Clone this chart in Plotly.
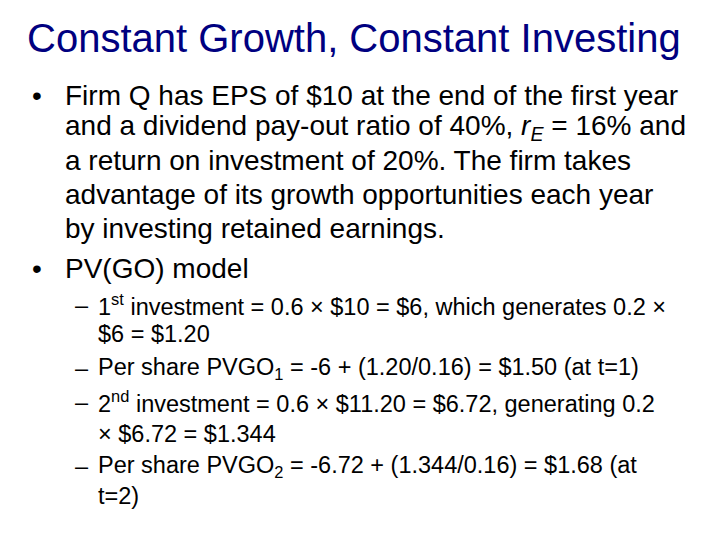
import plotly.graph_objects as go

title = "Constant Growth, Constant Investing"

bullet_lines = [
    "Firm Q has EPS of $10 at the end of the first year",
    "and a dividend pay-out ratio of 40%, <i>r<sub>E</sub></i> = 16% and",
    "a return on investment of 20%. The firm takes",
    "advantage of its growth opportunities each year",
    "by investing retained earnings.",
    "PV(GO) model",
]
bullet_y = [95, 127, 160, 194, 228, 268]
bullet_mark = [True, False, False, False, False, True]

sub_lines = [
    "1<sup>st</sup> investment = 0.6 × $10 = $6, which generates 0.2 ×",
    "$6 = $1.20",
    "Per share PVGO<sub>1</sub> = -6 + (1.20/0.16) = $1.50 (at t=1)",
    "2<sup>nd</sup> investment = 0.6 × $11.20 = $6.72, generating 0.2",
    "× $6.72 = $1.344",
    "Per share PVGO<sub>2</sub> = -6.72 + (1.344/0.16) = $1.68 (at",
    "t=2)",
]
sub_y = [305, 334, 368, 402, 434, 466, 496]
sub_mark = [True, False, True, True, False, True, False]

FONT = "Liberation Sans, Arial, sans-serif"
OFF = 8  # page body margin
fig = go.Figure()
ann = [dict(x=354 - OFF, y=38 - OFF, text=title, showarrow=False, xanchor="center", yanchor="middle",
            font=dict(family=FONT, size=40, color="#000080"))]
for t, y, m in zip(bullet_lines, bullet_y, bullet_mark):
    if m:
        ann.append(dict(x=30 - OFF, y=y - OFF, text="•", showarrow=False, xanchor="left", yanchor="middle",
                        font=dict(family=FONT, size=28, color="black")))
    ann.append(dict(x=63 - OFF, y=y - OFF, text=t, showarrow=False, xanchor="left", yanchor="middle",
                    font=dict(family=FONT, size=28, color="black")))
for t, y, m in zip(sub_lines, sub_y, sub_mark):
    if m:
        ann.append(dict(x=73 - OFF, y=y - OFF, text="–", showarrow=False, xanchor="left", yanchor="middle",
                        font=dict(family=FONT, size=23.5, color="black")))
    ann.append(dict(x=96 - OFF, y=y - OFF, text=t, showarrow=False, xanchor="left", yanchor="middle",
                    font=dict(family=FONT, size=23.5, color="black")))

fig.update_layout(
    width=720, height=540, margin=dict(l=0, r=0, t=0, b=0),
    paper_bgcolor="white", plot_bgcolor="white", annotations=ann, showlegend=False,
    xaxis=dict(range=[0, 720], visible=False),
    yaxis=dict(range=[540, 0], visible=False),
)
fig.write_html("out.html")
